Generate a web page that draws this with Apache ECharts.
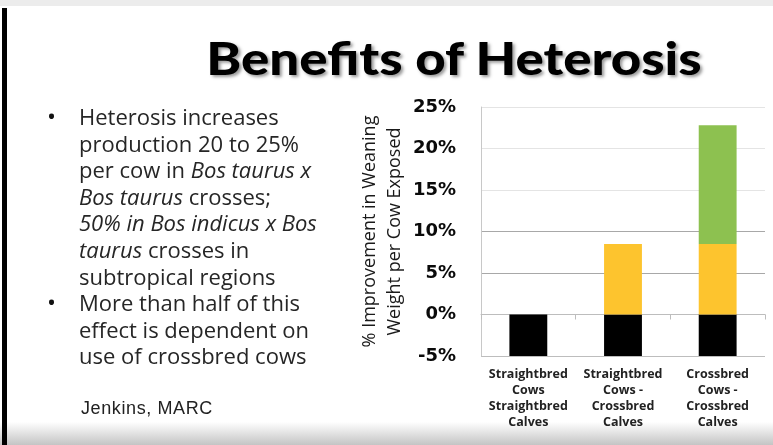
<!DOCTYPE html>
<html>
<head>
<meta charset="utf-8">
<script src="https://cdn.jsdelivr.net/npm/echarts@6/dist/echarts.min.js"></script>
<style>
  html, body { margin: 0; padding: 0; }
  body { width: 773px; height: 445px; position: relative; overflow: hidden; background: #fff; font-family: "Open Sans", sans-serif; }
  .slide-top { position: absolute; left: 0; top: 0; width: 773px; height: 6px; background: #ececec; }
  .slide-edge { position: absolute; left: 2px; top: 8px; width: 5px; height: 437px; background: #000; }
  .slide-bottom { position: absolute; left: 0; top: 422px; width: 773px; height: 23px; background: linear-gradient(#ffffff, #c4c4c4); }
  #chart { position: absolute; left: 0; top: 0; width: 773px; height: 445px; }
  .title { position: absolute; left: 0; width: 908px; top: 30px; text-align: center; font-family: "Lato", sans-serif; font-weight: 900; font-size: 46px; color: #000; text-shadow: 2px 2px 3px #999; transform: scaleX(1.147); transform-origin: 454px 0; white-space: nowrap; }
  ul { position: absolute; left: 46px; top: 103px; margin: 0; padding: 0; list-style: none; width: 320px; }
  li { position: relative; padding-left: 33px; font-size: 22px; line-height: 26.6px; color: #262626; white-space: nowrap; }
  li::before { content: "\2022"; position: absolute; left: 1px; top: 0; font-size: 24px; color: #111; }
  .src { position: absolute; left: 81px; top: 398px; font-family: "Liberation Sans", sans-serif; font-size: 18px; letter-spacing: 0.6px; color: #222; }
</style>
</head>
<body>
<div class="slide-top"></div>
<div class="slide-bottom"></div>
<div id="chart"></div>
<div class="slide-edge"></div>
<div class="title">Benefits of Heterosis</div>
<ul>
  <li>Heterosis increases<br>production 20 to 25%<br>per cow in <i>Bos taurus x</i><br><i>Bos taurus</i> crosses;<br><i>50% in Bos indicus x Bos</i><br><i>taurus</i> crosses in<br>subtropical regions</li>
  <li>More than half of this<br>effect is dependent on<br>use of crossbred cows</li>
</ul>
<div class="src">Jenkins, MARC</div>
<script>
var categories = ['Straightbred\nCows\nStraightbred\nCalves', 'Straightbred\nCows -\nCrossbred\nCalves', 'Crossbred\nCows -\nCrossbred\nCalves'];
var baseValues = [-5, -5, -5];
var cowValues = [0, 8.5, 8.5];
var calfValues = ['-', '-', 14.3];
var yMin = -5, yMax = 25, yStep = 5;

var myChart = echarts.init(document.getElementById('chart'));
var option = {
    animation: false,
    grid: { left: 481, right: 8, top: 107, bottom: 89 },
    xAxis: {
        type: 'category',
        data: categories,
        axisLine: { lineStyle: { color: '#bdbdbd' } },
        axisTick: { show: true, alignWithLabel: false, lineStyle: { color: '#bdbdbd' } },
        axisLabel: {
            interval: 0,
            margin: 10,
            color: '#222',
            fontFamily: 'Open Sans',
            fontWeight: 'bold',
            fontSize: 12.5,
            lineHeight: 16
        }
    },
    yAxis: {
        type: 'value',
        min: yMin,
        max: yMax,
        interval: yStep,
        name: '% Improvement in Weaning\nWeight per Cow Exposed',
        nameLocation: 'middle',
        nameRotate: 90,
        nameGap: 74,
        nameTextStyle: { color: '#1a1a1a', fontFamily: 'Open Sans', fontSize: 18, lineHeight: 25 },
        axisLine: { show: true, lineStyle: { color: '#c8c8c8' } },
        axisTick: { show: false },
        axisLabel: {
            formatter: '{value}%',
            margin: 25,
            color: '#0a0a0a',
            fontFamily: 'DejaVu Sans',
            fontWeight: 'bold',
            fontSize: 18
        },
        splitLine: { lineStyle: { color: ['#bdbdbd', '#e4e4e4', '#a8a8a8', '#a8a8a8', '#e4e4e4', '#e4e4e4', '#e4e4e4'] } }
    },
    series: [
        { name: 'Base', type: 'bar', stack: 'total', barWidth: '40%', data: baseValues, itemStyle: { color: '#000' } },
        { name: 'Crossbred calves', type: 'bar', stack: 'total', data: cowValues, itemStyle: { color: '#FDC42E' } },
        { name: 'Crossbred cows', type: 'bar', stack: 'total', data: calfValues, itemStyle: { color: '#8DC150' } }
    ]
};
myChart.setOption(option);
</script>
</body>
</html>
